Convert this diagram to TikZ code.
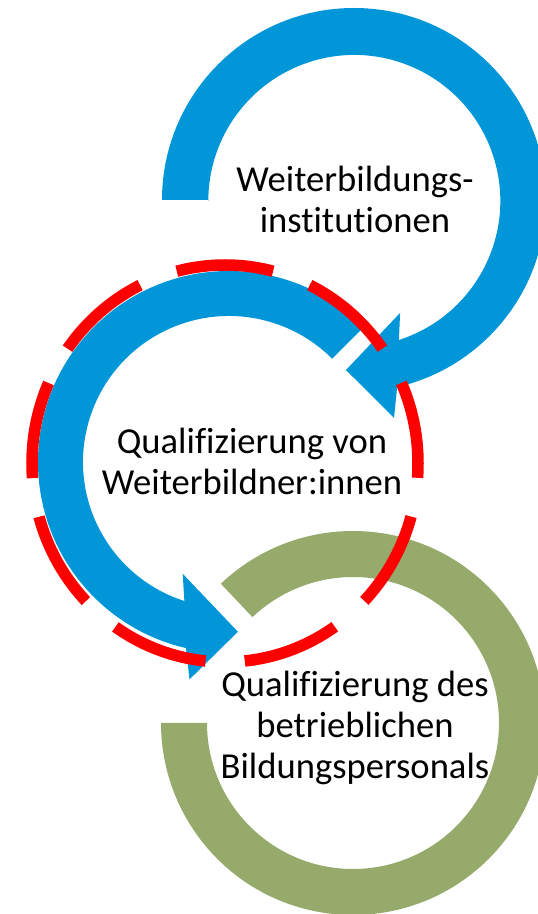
\documentclass[tikz,border=0pt]{standalone}
\usepackage{fontspec}
\setmainfont{Carlito}[Ligatures={NoCommon}]
\definecolor{ringblue}{RGB}{0,150,216}
\definecolor{ringgreen}{RGB}{149,170,107}
\definecolor{dashred}{RGB}{255,0,0}
\tikzset{
  labeltext/.style={align=center, inner sep=0pt, text=black,
    font=\fontsize{36.6pt}{41pt}\selectfont},
  bluering/.style={fill=ringblue},
  greenring/.style={fill=ringgreen},
  reddash/.style={draw=dashred, line width=11.5pt,
    dash pattern=on 97.4pt off 39.3pt, dash phase=14.5pt}
}
\begin{document}
\begin{tikzpicture}[x=1pt,y=1pt]
\clip (0,0) rectangle (538,914);
\useasboundingbox (0,0) rectangle (538,914);
\fill[white] (0,0) rectangle (538,914);
% centres
\coordinate (c1) at (354,714);
\coordinate (c2) at (229,452);
\coordinate (c3) at (353,191);
\coordinate (cr) at (225,450.5);
% green ring (bottom)
\begin{scope}[shift={(c3)}]
\fill[greenring] (133.5:146pt) -- (133.5:192pt)
  arc[start angle=133.5, end angle=-180, radius=192pt]
  -- (180:146pt)
  arc[start angle=-180, end angle=133.5, radius=146pt] -- cycle;
\end{scope}
% middle blue arrow
\begin{scope}[shift={(c2)}]
\fill[bluering] (45:146pt) -- (45:191pt)
  arc[start angle=45, end angle=257, radius=191pt]
  -- (259.7:221pt) -- (273:170pt) -- (247.5:121pt) -- (252.2:146pt)
  arc[start angle=252.2, end angle=45, radius=146pt] -- cycle;
\end{scope}
% top blue arrow
\begin{scope}[shift={(c1)}]
\fill[bluering] (180:146pt) -- (180:192pt)
  arc[start angle=180, end angle=-77, radius=192pt]
  -- (-79.6:221.6pt) -- (-92.7:170.2pt) -- (-67.8:122pt) -- (-72.2:147pt)
  arc[start angle=-72.2, end angle=180, radius=146pt] -- cycle;
\end{scope}
% red dashed ellipse
\draw[reddash] (cr) ellipse [x radius=193pt, y radius=198.5pt];
% texts
\node[labeltext] (t1) at (355,714.5) {Weiterbildungs-\\institutionen};
\node[labeltext] (t2) at (252,452.3) {Qualifizierung von\\Weiterbildner:innen};
\node[labeltext] (t3) at (355,186) {Qualifizierung des\\betrieblichen\\Bildungspersonals};
\end{tikzpicture}
\end{document}
